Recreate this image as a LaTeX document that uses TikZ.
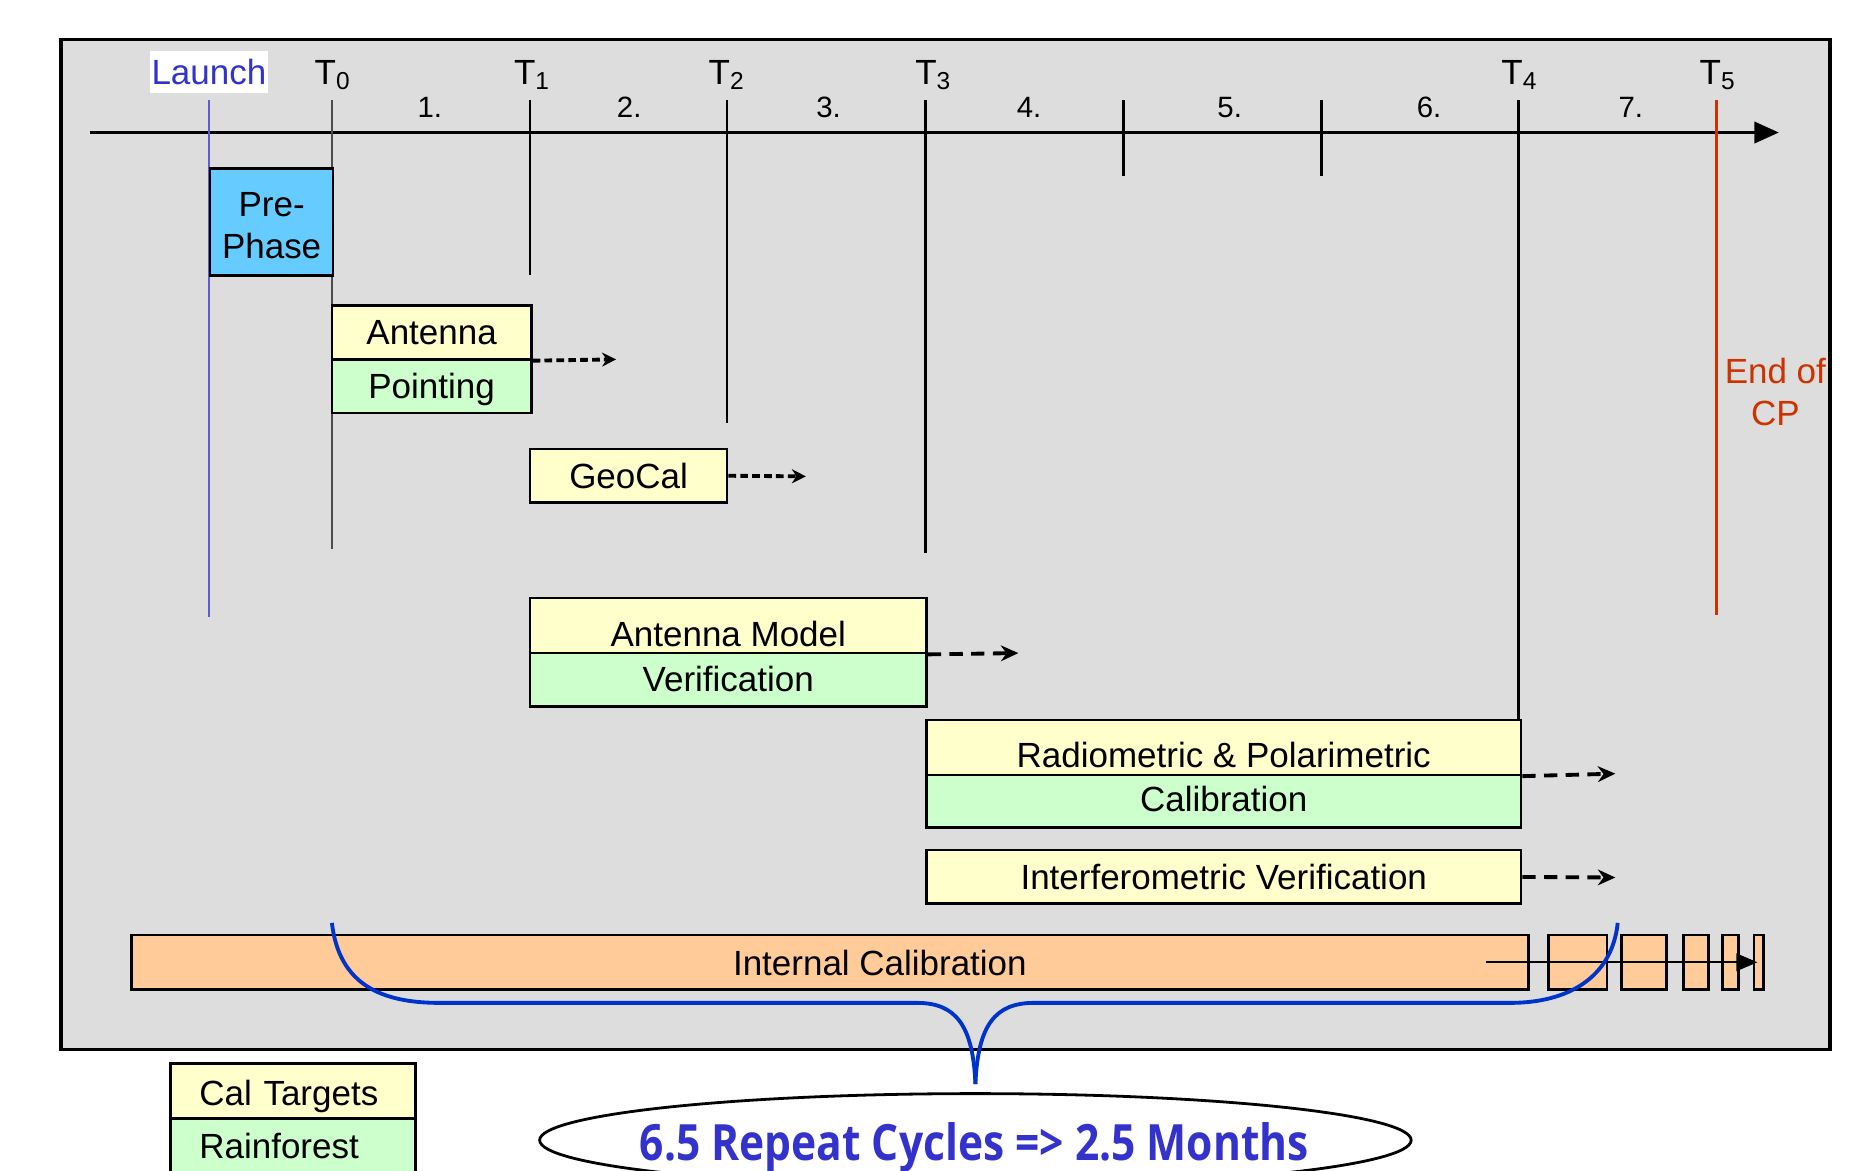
\documentclass[tikz,border=0pt]{standalone}
\usepackage{fontspec}
\setmainfont{Liberation Sans}
\newfontfamily\cyclefont{Open Sans}
\usetikzlibrary{arrows.meta, positioning, shapes.geometric}

\definecolor{framegray}{HTML}{DDDDDD}
\definecolor{calyellow}{HTML}{FFFFCC}
\definecolor{rfgreen}{HTML}{CCFFCC}
\definecolor{preblue}{HTML}{66CCFF}
\definecolor{icorange}{HTML}{FFCC99}
\definecolor{launchblue}{HTML}{3333CC}
\definecolor{cpred}{HTML}{CC3300}
\definecolor{braceblue}{HTML}{0033CC}
\newcommand{\px}{0.012cm}
\newcommand{\nudge}[2]{\raisebox{#1}[\height][\depth]{#2}}

\tikzset{
  phasebox/.style={draw, line width=0.75pt, inner sep=0pt, font=\fontsize{10}{12}\selectfont},
  calbox/.style={phasebox, fill=calyellow},
  rfbox/.style={phasebox, fill=rfgreen},
  lowtext/.style={text height=0.41cm, text depth=0pt},
  tlabel/.style={font=\fontsize{10}{12}\selectfont},
  cyclabel/.style={font=\fontsize{8.4}{10}\selectfont},
  dotarrow/.style={-{Stealth[length=4pt,width=4pt]}, line width=1.1pt, dash pattern=on 2.2pt off 1.2pt},
  dasharrow/.style={-{Stealth[length=5pt,width=4.5pt]}, line width=1.1pt, dash pattern=on 3.8pt off 2.4pt},
}

\begin{document}
\begin{tikzpicture}[x=\px, y=-\px]
  \useasboundingbox (0,0) rectangle (1568,980);
  \draw [fill=framegray, line width=1pt] (51,33) rectangle (1533,879);

  % time axis
  \draw [line width=1.1pt, -{Triangle[length=7pt,width=6pt]}] (75,111) -- (1490,111);
  \foreach \x/\n in {360/1, 527/2, 694/3, 862/4, 1030/5, 1197/6, 1366/7}
    \node [cyclabel] at (\x,90) {\n.};
  \foreach \lx/\t in {279/0, 446/1, 609/2, 782/3, 1273/4, 1439/5}
    \node (T\t) [tlabel] at (\lx,63) {T\textsubscript{\t}};
  \draw [line width=0.4pt, black!70] (278,84) -- (278,460);
  \foreach \x/\e in {444/230, 609/354, 775/463, 1272/603, 941/147, 1107/147}
    \draw [line width=0.8pt] (\x,84) -- (\x,\e);
  \draw [line width=0.8pt, cpred] (1438,84) -- (1438,515);
  \draw [line width=0.4pt, launchblue!80] (175,84) -- (175,517);

  \node (launch) [tlabel, fill=white, text=launchblue, minimum width=99*\px, minimum height=35*\px, inner sep=0pt] at (175,60) {Launch};
  \node (endcp) [tlabel, text=cpred, align=center] at (1487,328) {End of\\CP};

  % phases
  \node (pre) [phasebox, fill=preblue, align=center, minimum width=103*\px, minimum height=90*\px] at (227.5,186) {\nudge{-0.9pt}{\parbox{1.2cm}{\centering Pre-\\Phase}}};
  \node (antA) [calbox, minimum width=167*\px, minimum height=45*\px] at (361.5,278.5) {Antenna};
  \node (antB) [rfbox, minimum width=167*\px, minimum height=45*\px] at (361.5,323.5) {\nudge{-1pt}{Pointing}};
  \node (geo) [calbox, minimum width=165*\px, minimum height=45*\px] at (526.5,398.5) {GeoCal};
  \node (amA) [calbox, lowtext, minimum width=332*\px, minimum height=46*\px] at (610,524) {Antenna Model};
  \node (amB) [rfbox, minimum width=332*\px, minimum height=45*\px] at (610,569.5) {\nudge{0.4pt}{Verification}};
  \node (radA) [calbox, lowtext, minimum width=498*\px, minimum height=46*\px] at (1025,626) {Radiometric \& Polarimetric};
  \node (radB) [rfbox, minimum width=498*\px, minimum height=44*\px] at (1025,671) {\nudge{0.7pt}{Calibration}};
  \node (ifv) [calbox, minimum width=498*\px, minimum height=45*\px] at (1025,734.5) {Interferometric Verification};

  \coordinate (antEnd) at (516,301);
  \coordinate (geoEnd) at (675,399);
  \coordinate (amEnd) at (853,547);
  \coordinate (radEnd) at (1353,648);
  \coordinate (ifvEnd) at (1353,735);
  \draw [dotarrow] (antA.south east) -- (antEnd);
  \draw [dotarrow] (geo.east) -- (geoEnd);
  \draw [dasharrow] (amA.south east) -- (amEnd);
  \draw [dasharrow] (radA.south east) -- (radEnd);
  \draw [dasharrow] (ifv.east) -- (ifvEnd);

  % internal calibration
  \node (intcal) [phasebox, fill=icorange, minimum width=1170*\px, minimum height=46*\px] at (695,806) {};
  \node (intcaltext) [tlabel] at (737,807) {Internal Calibration};
  \foreach \l/\r in {1297/1346, 1358/1396, 1410/1431, 1443/1456, 1469/1477}
    \draw [fill=icorange, line width=0.75pt] (\l,783) rectangle (\r,829);
  \draw [line width=0.5pt, -{Triangle[length=6pt,width=5pt]}] (1245,806) -- (1472,806);

  % brace and cycle count
  \coordinate (braceL) at (278,773);
  \coordinate (braceR) at (1355,773);
  \coordinate (braceTip) at (817,908);
  \draw [braceblue, line width=1.1pt]
    (braceL) .. controls (284,825) and (320,840) .. (368,840) -- (768,840)
    .. controls (800,840) and (815,858) .. (braceTip);
  \draw [braceblue, line width=1.1pt]
    (braceR) .. controls (1350,820) and (1312,840) .. (1265,840) -- (866,840)
    .. controls (834,840) and (819,858) .. (braceTip);

  \node (cycles) [ellipse, draw, line width=0.8pt, fill=white, minimum width=730*\px, minimum height=78*\px, inner sep=0pt] at (817,955) {};
  \node (cyclestext) [text=launchblue, font=\cyclefont\bfseries\fontsize{14.3}{16}\selectfont] at (816,961) {\scalebox{0.85}[1]{6.5 Repeat Cycles => 2.5 Months}};

  % legend
  \node (legCal) [calbox, minimum width=205*\px, minimum height=46*\px, text width=157*\px, align=left, inner xsep=24*\px] at (245.5,914) {\nudge{-1.4pt}{Cal Targets}};
  \node (legRf) [rfbox, minimum width=205*\px, minimum height=46*\px, text width=157*\px, align=left, inner xsep=24*\px] at (245.5,960) {Rainforest};
\end{tikzpicture}
\end{document}
